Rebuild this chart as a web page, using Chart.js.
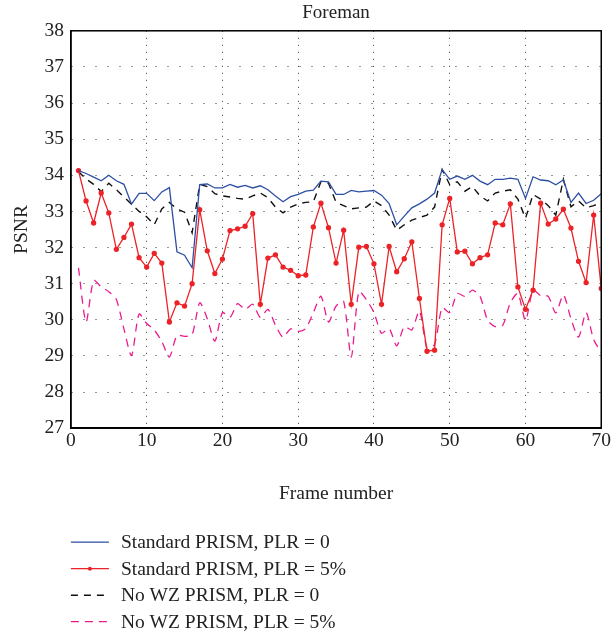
<!DOCTYPE html>
<html>
<head>
<meta charset="utf-8">
<script src="https://cdn.jsdelivr.net/npm/chart.js@4.4.0/dist/chart.umd.min.js"></script>
<style>
    html, body { margin: 0; padding: 0; background: #fff; }
    #wrap { width: 612px; height: 636px; }
</style>
</head>
<body>
<div id="wrap"><canvas id="chartPsnr" width="612" height="636"></canvas></div>
<script>
// frame numbers
var frames = [1, 2, 3, 4, 5, 6, 7, 8, 9, 10, 11, 12, 13, 14, 15, 16, 17, 18, 19, 20,
    21, 22, 23, 24, 25, 26, 27, 28, 29, 30, 31, 32, 33, 34, 35, 36, 37, 38, 39, 40,
    41, 42, 43, 44, 45, 46, 47, 48, 49, 50, 51, 52, 53, 54, 55, 56, 57, 58, 59, 60,
    61, 62, 63, 64, 65, 66, 67, 68, 69, 70];

var seriesNames = ['Standard PRISM, PLR = 0', 'Standard PRISM, PLR = 5%',
    'No WZ PRISM, PLR = 0', 'No WZ PRISM, PLR = 5%'];

// PSNR values
var stdPlr0 = [34.13, 34.05, 33.95, 33.85, 34.0, 33.85, 33.75, 33.2, 33.5, 33.5,
    33.3, 33.54, 33.66, 31.88, 31.79, 31.44, 33.74, 33.76, 33.65, 33.65,
    33.75, 33.67, 33.72, 33.65, 33.71, 33.6, 33.43, 33.27, 33.41, 33.47,
    33.56, 33.59, 33.84, 33.82, 33.47, 33.47, 33.58, 33.54, 33.56, 33.58,
    33.45, 33.22, 32.63, 32.87, 33.1, 33.21, 33.34, 33.51, 34.16, 33.89,
    33.98, 33.89, 34.0, 33.84, 33.74, 33.89, 33.89, 33.92, 33.89, 33.36,
    33.96, 33.87, 33.85, 33.74, 33.87, 33.25, 33.51, 33.22, 33.31, 33.49];

var stdPlr5 = [34.13, 33.29, 32.68, 33.51, 32.96, 31.95, 32.28, 32.65, 31.72, 31.46,
    31.84, 31.57, 29.94, 30.47, 30.38, 31.0, 33.05, 31.91, 31.28, 31.68,
    32.47, 32.52, 32.59, 32.94, 30.43, 31.71, 31.8, 31.46, 31.37, 31.22,
    31.24, 32.57, 33.23, 32.55, 31.57, 32.48, 30.43, 32.01, 32.03, 31.55,
    30.43, 32.03, 31.33, 31.69, 32.16, 30.59, 29.13, 29.16, 32.63, 33.36,
    31.88, 31.9, 31.55, 31.72, 31.8, 32.68, 32.63, 33.21, 30.91, 30.29,
    30.82, 33.23, 32.65, 32.79, 33.06, 32.54, 31.62, 31.03, 32.9, 30.87];

var noWzPlr0 = [34.1, 33.9, 33.75, 33.55, 33.78, 33.6, 33.4, 33.2, 33.0, 32.85,
    32.63, 33.07, 33.25, 33.07, 32.98, 32.41, 33.75, 33.69, 33.49, 33.43,
    33.4, 33.36, 33.34, 33.43, 33.51, 33.38, 33.12, 32.96, 33.12, 33.21,
    33.25, 33.27, 33.82, 33.78, 33.25, 33.16, 33.07, 33.1, 33.12, 33.29,
    33.16, 32.9, 32.48, 32.63, 32.76, 32.83, 32.9, 33.12, 34.16, 33.74,
    33.82, 33.56, 33.69, 33.43, 33.29, 33.51, 33.56, 33.6, 33.34, 32.81,
    33.47, 33.34, 33.16, 32.9, 33.89, 33.13, 33.29, 33.1, 33.16, 33.25];

var noWzPlr5 = [31.44, 29.94, 31.09, 30.91, 30.78, 30.56, 29.75, 29.01, 30.16, 29.9,
    29.72, 29.4, 28.97, 29.57, 29.54, 29.59, 30.47, 30.03, 29.41, 30.2,
    30.07, 30.45, 30.29, 30.43, 30.07, 30.29, 29.85, 29.52, 29.75, 29.68,
    29.76, 30.2, 30.65, 29.94, 30.38, 30.51, 28.97, 30.78, 30.56, 30.2,
    29.63, 29.76, 29.28, 29.81, 29.72, 30.25, 29.23, 29.32, 30.34, 30.2,
    30.73, 30.65, 30.82, 30.65, 29.99, 29.81, 29.85, 30.47, 30.73, 29.98,
    30.82, 30.67, 30.65, 30.19, 30.69, 30.03, 29.52, 30.2, 29.45, 29.1];

var xTicks = [0, 10, 20, 30, 40, 50, 60, 70];
var yTicks = [27, 28, 29, 30, 31, 32, 33, 34, 35, 36, 37, 38];

function toPoints(values) {
    var pts = [];
    for (var i = 0; i < frames.length; i++) {
        pts.push({ x: frames[i], y: values[i] });
    }
    return pts;
}

var serif = "'Liberation Serif', 'DejaVu Serif', serif";

// box round the plot area
var frameBox = {
    id: 'frameBox',
    afterDatasetsDraw: function (chart) {
        var a = chart.chartArea, ctx = chart.ctx;
        ctx.save();
        ctx.strokeStyle = '#000';
        ctx.lineWidth = 1.5;
        ctx.strokeRect(a.left, a.top, a.right - a.left, a.bottom - a.top);
        ctx.restore();
    }
};

// legend stacked under the axis, one row each
var stackLegend = {
    id: 'stackLegend',
    afterDraw: function (chart) {
        var ctx = chart.ctx, a = chart.chartArea;
        var x0 = a.left, x1 = a.left + 38, tx = a.left + 50;
        var y = a.bottom + 114, step = 26.5;
        ctx.save();
        ctx.font = '19.5px ' + serif;
        ctx.textBaseline = 'middle';
        chart.data.datasets.forEach(function (ds, i) {
            var yy = y + i * step;
            ctx.strokeStyle = ds.borderColor;
            ctx.lineWidth = ds.borderWidth;
            ctx.setLineDash(ds.borderDash || []);
            ctx.beginPath();
            ctx.moveTo(x0, yy);
            ctx.lineTo(x1, yy);
            ctx.stroke();
            ctx.setLineDash([]);
            if (ds.pointRadius > 0) {
                ctx.fillStyle = ds.borderColor;
                ctx.beginPath();
                ctx.arc((x0 + x1) / 2, yy, ds.pointRadius, 0, Math.PI * 2);
                ctx.fill();
            }
            ctx.fillStyle = '#222';
            ctx.fillText(ds.label, tx, yy + 1);
        });
        ctx.restore();
    }
};

var ctxPsnr = document.getElementById('chartPsnr');
var psnrChart = new Chart(ctxPsnr, {
    type: 'line',
    data: {
        datasets: [{
            label: seriesNames[0],
            data: toPoints(stdPlr0),
            borderColor: '#2d4fa3',
            borderWidth: 1.3,
            pointRadius: 0,
            tension: 0
        }, {
            label: seriesNames[1],
            data: toPoints(stdPlr5),
            borderColor: '#ec2227',
            backgroundColor: '#ec2227',
            borderWidth: 1.3,
            pointRadius: 2,
            pointHoverRadius: 2,
            tension: 0
        }, {
            label: seriesNames[2],
            data: toPoints(noWzPlr0),
            borderColor: '#111',
            borderWidth: 1.4,
            borderDash: [7, 6],
            pointRadius: 0,
            tension: 0
        }, {
            label: seriesNames[3],
            data: toPoints(noWzPlr5),
            borderColor: '#ec1b8c',
            borderWidth: 1.3,
            borderDash: [8, 6],
            pointRadius: 0,
            tension: 0.25
        }]
    },
    options: {
        responsive: false,
        animation: false,
        devicePixelRatio: 1,
        layout: {
            padding: { top: 2, right: 0, bottom: 130, left: 10 }
        },
        plugins: {
            legend: { display: false },
            tooltip: { enabled: false },
            title: {
                display: true,
                text: 'Foreman',
                fullSize: false,
                color: '#222',
                font: { family: serif, size: 19, weight: 'normal' },
                padding: { top: 0, bottom: 6 }
            }
        },
        scales: {
            x: {
                type: 'linear',
                min: 0,
                max: 70,
                afterBuildTicks: function (axis) {
                    axis.ticks = xTicks.map(function (v) { return { value: v }; });
                },
                grid: { color: '#333', lineWidth: 1, drawTicks: false },
                border: { display: true, color: '#000', width: 1.5, dash: [1, 6] },
                ticks: {
                    color: '#222',
                    padding: 1,
                    font: { family: serif, size: 19.5 }
                },
                title: {
                    display: true,
                    text: 'Frame number',
                    color: '#222',
                    font: { family: serif, size: 19.5 },
                    padding: { top: 29, bottom: 0 }
                }
            },
            y: {
                min: 27,
                max: 38,
                afterBuildTicks: function (axis) {
                    axis.ticks = yTicks.map(function (v) { return { value: v }; });
                },
                grid: { color: '#333', lineWidth: 1, drawTicks: false },
                border: { display: true, color: '#000', width: 1.5, dash: [1, 11] },
                ticks: {
                    color: '#222',
                    padding: 7,
                    font: { family: serif, size: 19.5 }
                },
                title: {
                    display: true,
                    text: 'PSNR',
                    color: '#222',
                    font: { family: serif, size: 19.5 },
                    padding: { top: 0, bottom: 4 }
                }
            }
        }
    },
    plugins: [frameBox, stackLegend]
});
</script>
</body>
</html>
